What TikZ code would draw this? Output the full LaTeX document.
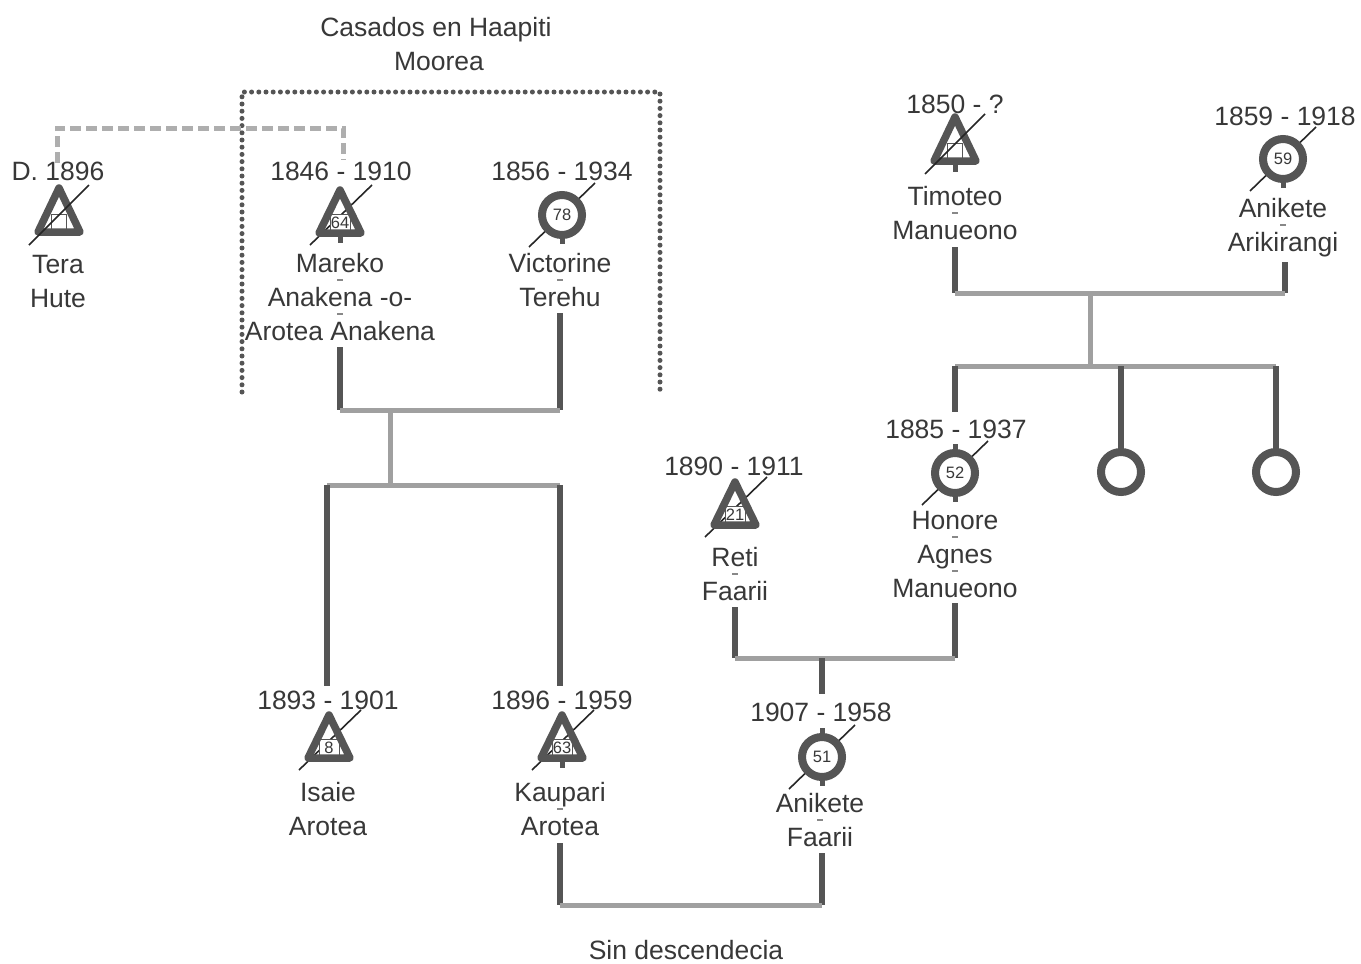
\documentclass[tikz,border=0pt]{standalone}
\usepackage{fontspec}
\setmainfont{Liberation Sans}
\usetikzlibrary{calc}
\definecolor{dk}{HTML}{555555}
\definecolor{lt}{HTML}{A0A0A0}
\definecolor{tx}{HTML}{383838}
\tikzset{
  lbl/.style={font=\fontsize{26.5}{30}\selectfont, text=tx, inner sep=0pt, anchor=base},
  shp/.style={draw=dk, line width=7.5pt, line join=round},
  vline/.style={draw=dk, line width=6pt},
  hline/.style={draw=lt, line width=5pt},
  tickmark/.style={draw=dk, line width=5pt},
  slashline/.style={draw=black!85, line width=1.6pt},
  agebox/.style={draw=dk, line width=0.8pt, fill=white, inner sep=0pt, minimum width=20pt, minimum height=17pt, font=\fontsize{16.5}{16.5}\selectfont, text=tx},
  emptybox/.style={draw=dk, line width=1pt, inner sep=0pt, minimum width=15pt, minimum height=16pt},
  ndash/.style={draw=dk!70, line width=2.5pt},
  dottedbox/.style={draw=dk, line width=5pt, line cap=round, dash pattern=on 0pt off 7.2pt},
  dashedlink/.style={draw=lt!85, line width=5pt, dash pattern=on 11pt off 5pt},
  femring/.style={circle, draw=dk, line width=8pt, fill=white, minimum size=40pt, inner sep=0pt},
}
% triangle (male) with age box: name, x, y, age text
\newcommand\Tri[4]{%
  \begin{scope}[shift={(#2,#3)}]
    \node[inner sep=0pt, minimum width=50pt, minimum height=50pt] (#1) at (0,0) {};
    \draw[slashline] (-30,28) -- (32,-32);
    \node[agebox] (#1-age) at (0,6) {#4};
    \draw[shp] (0,-27) -- (21,16) -- (-21,16) -- cycle;
  \end{scope}}
% triangle (male), age unknown: name, x, y
\newcommand\TriQ[3]{%
  \begin{scope}[shift={(#2,#3)}]
    \node[inner sep=0pt, minimum width=50pt, minimum height=50pt] (#1) at (0,0) {};
    \draw[shp] (0,-27) -- (21,17) -- (-21,17) -- cycle;
    \node[emptybox] (#1-age) at (0,7) {};
    \draw[slashline] (-30,30) -- (30,-30);
  \end{scope}}
% circle (female) with death slash: name, x, y, age text
\newcommand\Circ[4]{%
  \begin{scope}[shift={(#2,#3)}]
    \draw[slashline] (-33,32) -- (33,-32);
    \node[femring, font=\fontsize{16.5}{16.5}\selectfont, text=tx] (#1) at (0,0) {#4};
  \end{scope}}
\newcommand\CircPlain[3]{\node[femring] (#1) at (#2,#3) {};}
\newcommand\ND[2]{\draw[ndash] (#1-3,#2) -- (#1+3,#2);}
\begin{document}
\begin{tikzpicture}[x=1pt, y=-1pt]
\fill[white] (0,0) rectangle (1361,964);
\useasboundingbox (0,0) rectangle (1361,964);

% titles
\node[lbl] (title1) at (436,36) {Casados en Haapiti};
\node[lbl] (title2) at (439,70) {Moorea};
\node[lbl] (nodesc) at (686,959) {Sin descendecia};

% dotted marriage frame
\coordinate (fA) at (242,392); \coordinate (fB) at (242,92);
\coordinate (fC) at (660,92);  \coordinate (fD) at (660,392);
\draw[dottedbox] (fA) -- (fB) -- (fC) -- (fD);

% ---------- connectors ----------
% Tera -- Mareko (dashed)
\coordinate (dt1) at (57,163); \coordinate (dt2) at (57,128);
\coordinate (dt3) at (343,128); \coordinate (dt4) at (343,160);
\draw[dashedlink] (dt1) -- (dt2) -- (dt3) -- (dt4);

% Mareko + Victorine
\coordinate (m1) at (340,347); \coordinate (m2) at (340,410);
\coordinate (v1) at (560,313); \coordinate (v2) at (560,410);
\coordinate (mv) at (390,410); \coordinate (sib1) at (390,485);
\coordinate (sibL) at (327,485); \coordinate (sibR) at (560,485);
\coordinate (is1) at (327,686); \coordinate (ka1) at (560,686);
\draw[vline] (m1) -- (m2);
\draw[vline] (v1) -- (v2);
\draw[hline] (m2) -- (v2);
\draw[hline] (mv) -- (sib1);
\draw[hline] (sibL) -- (sibR);
\draw[vline] (sibL) -- (is1);
\draw[vline] (sibR) -- (ka1);

% Kaupari + Anikete Faarii
\coordinate (ka2) at (560,843); \coordinate (ka3) at (560,905);
\coordinate (af2) at (822,853); \coordinate (af3) at (822,905);
\draw[vline] (ka2) -- (ka3);
\draw[vline] (af2) -- (af3);
\draw[hline] (ka3) -- (af3);

% Reti + Honore
\coordinate (re1) at (735,607); \coordinate (re2) at (735,658);
\coordinate (ho1) at (955,603); \coordinate (ho2) at (955,658);
\coordinate (rh) at (822,658); \coordinate (af1) at (822,694);
\draw[vline] (re1) -- (re2);
\draw[vline] (ho1) -- (ho2);
\draw[hline] (re2) -- (ho2);
\draw[vline] (rh) -- (af1);

% Timoteo + Anikete Arikirangi
\coordinate (ti1) at (955,247); \coordinate (ti2) at (955,293);
\coordinate (aa1) at (1285,262); \coordinate (aa2) at (1285,293);
\coordinate (ta) at (1090,293); \coordinate (ta2) at (1090,366);
\draw[vline] (ti1) -- (ti2);
\draw[vline] (aa1) -- (aa2);
\draw[hline] (ti2) -- (aa2);
\draw[hline] (ta) -- (ta2);
\coordinate (c1) at (955,366); \coordinate (c2) at (1121,366); \coordinate (c3) at (1276,366);
\coordinate (ho0) at (955,412);
\draw[hline] (c1) -- (c3);
\draw[vline] (c1) -- (ho0);
\draw[vline] (c2) -- (1121,452);
\draw[vline] (c3) -- (1276,452);

% ---------- persons ----------
% Tera Hute
\TriQ{tera}{59}{215}
\node[lbl] (tera-yr) at (58,180) {D. 1896};
\node[lbl] (tera-n1) at (58,273) {Tera};
\node[lbl] (tera-n2) at (58,307) {Hute};

% Mareko
\Tri{mareko}{340}{217}{64}
\draw[tickmark] (340,236) -- (340,243);
\node[lbl] (mar-yr) at (341,180) {1846 - 1910};
\node[lbl] (mar-n1) at (340,272) {Mareko};
\node[lbl] (mar-n2) at (340,306) {Anakena -o-};
\node[lbl] (mar-n3) at (340,340) {Arotea Anakena};
\ND{340}{280} \ND{340}{314}

% Victorine
\draw[tickmark] (562,235) -- (562,244);
\Circ{victorine}{562}{215}{78}
\node[lbl] (vic-yr) at (562,180) {1856 - 1934};
\node[lbl] (vic-n1) at (560,272) {Victorine};
\node[lbl] (vic-n2) at (560,306) {Terehu};
\ND{560}{280}

% Timoteo
\TriQ{timoteo}{955}{144}
\draw[tickmark] (955,165) -- (955,172);
\node[lbl] (tim-yr) at (955,113) {1850 - ?};
\node[lbl] (tim-n1) at (955,205) {Timoteo};
\node[lbl] (tim-n2) at (955,239) {Manueono};
\ND{955}{213}

% Anikete Arikirangi
\draw[tickmark] (1283,179) -- (1283,188);
\Circ{anikA}{1283}{159}{59}
\node[lbl] (aa-yr) at (1285,125) {1859 - 1918};
\node[lbl] (aa-n1) at (1283,217) {Anikete};
\node[lbl] (aa-n2) at (1283,251) {Arikirangi};
\ND{1283}{225}

% Reti Faarii
\Tri{reti}{735}{509}{21}
\node[lbl] (reti-yr) at (734,475) {1890 - 1911};
\node[lbl] (reti-n1) at (735,566) {Reti};
\node[lbl] (reti-n2) at (735,600) {Faarii};
\ND{735}{574}

% Honore
\draw[tickmark] (955,444) -- (955,502);
\Circ{honore}{955}{473}{52}
\node[lbl] (ho-yr) at (956,438) {1885 - 1937};
\node[lbl] (ho-n1) at (955,529) {Honore};
\node[lbl] (ho-n2) at (955,563) {Agnes};
\node[lbl] (ho-n3) at (955,597) {Manueono};
\ND{955}{537} \ND{955}{571}

% daughters
\CircPlain{d1}{1121}{472}
\CircPlain{d2}{1276}{472}

% Isaie
\Tri{isaie}{329}{742}{8}
\node[lbl] (is-yr) at (328,709) {1893 - 1901};
\node[lbl] (is-n1) at (328,801) {Isaie};
\node[lbl] (is-n2) at (328,835) {Arotea};

% Kaupari
\Tri{kaupari}{562}{742}{63}
\draw[tickmark] (562,761) -- (562,768);
\node[lbl] (ka-yr) at (562,709) {1896 - 1959};
\node[lbl] (ka-n1) at (560,801) {Kaupari};
\node[lbl] (ka-n2) at (560,835) {Arotea};
\ND{560}{809}

% Anikete Faarii
\draw[tickmark] (822,728) -- (822,786);
\Circ{anikF}{822}{757}{51}
\node[lbl] (af-yr) at (821,721) {1907 - 1958};
\node[lbl] (af-n1) at (820,812) {Anikete};
\node[lbl] (af-n2) at (820,846) {Faarii};
\ND{820}{820}
\end{tikzpicture}
\end{document}
